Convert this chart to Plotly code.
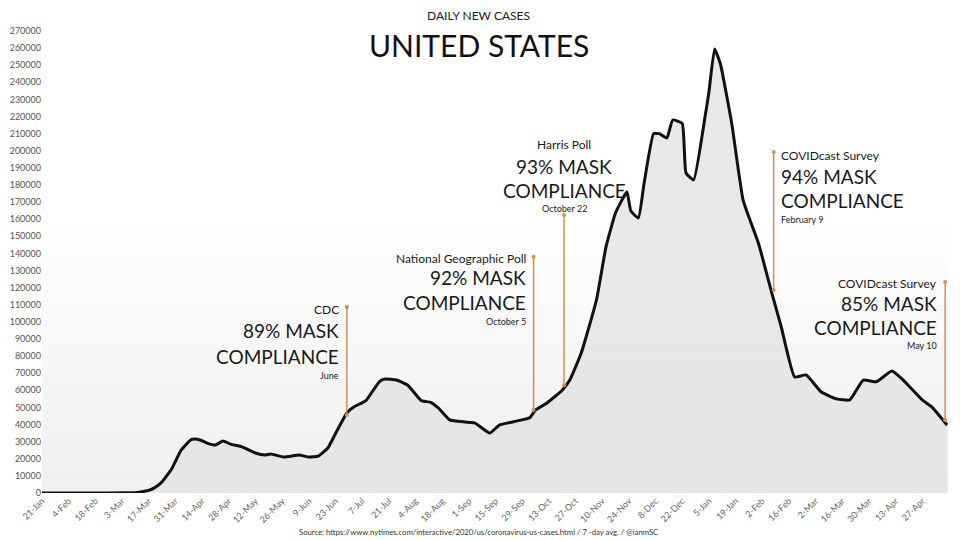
import plotly.graph_objects as go

# ---- data (7-day average daily new cases) ----
dates = [
    "2020-01-21", "2020-02-15", "2020-03-05", "2020-03-12", "2020-03-17", "2020-03-20",
    "2020-03-24", "2020-03-29", "2020-04-03", "2020-04-08", "2020-04-10", "2020-04-13",
    "2020-04-17", "2020-04-21", "2020-04-25", "2020-04-29", "2020-05-05", "2020-05-12",
    "2020-05-17", "2020-05-20", "2020-05-27", "2020-06-04", "2020-06-09", "2020-06-14",
    "2020-06-19", "2020-06-24", "2020-06-29", "2020-07-03", "2020-07-09", "2020-07-16",
    "2020-07-19", "2020-07-25", "2020-07-31", "2020-08-07", "2020-08-12", "2020-08-16",
    "2020-08-22", "2020-08-30", "2020-09-04", "2020-09-12", "2020-09-17", "2020-09-26",
    "2020-10-03", "2020-10-06", "2020-10-12", "2020-10-20", "2020-10-24", "2020-10-30",
    "2020-11-07", "2020-11-12", "2020-11-17", "2020-11-23", "2020-11-25", "2020-11-29",
    "2020-12-02", "2020-12-07", "2020-12-10", "2020-12-14", "2020-12-17", "2020-12-22",
    "2020-12-24", "2020-12-28", "2021-01-03", "2021-01-05", "2021-01-08", "2021-01-11",
    "2021-01-17", "2021-01-23", "2021-01-31", "2021-02-07", "2021-02-12", "2021-02-19",
    "2021-02-25", "2021-03-05", "2021-03-13", "2021-03-20", "2021-03-27", "2021-04-03",
    "2021-04-11", "2021-04-17", "2021-04-27", "2021-05-02", "2021-05-10",
]
cases = [
    0, 0, 100, 500, 1500, 3000,
    6500, 14000, 25000, 31000, 31600, 31000,
    29000, 28000, 30400, 28600, 27000, 23400,
    22200, 22800, 21000, 22200, 21000, 21600,
    26300, 36800, 46800, 50500, 54000, 65000,
    66600, 66000, 63000, 54000, 53000, 49700,
    42700, 41500, 41000, 35000, 39700, 42000,
    44000, 48500, 52600, 60000, 66000, 81800,
    112800, 143800, 163600, 176000, 165000, 160700,
    181000, 210000, 210000, 207500, 218000, 216000,
    187000, 183000, 220000, 234000, 259500, 251000,
    216000, 171000, 146000, 117000, 97000, 67800,
    69000, 59000, 55000, 54400, 66000, 65000,
    71300, 66000, 54400, 50300, 39700,
]

# ---- survey callouts ----
call_dates = ["2020-06-29", "2020-10-05", "2020-10-21", "2021-02-08", "2021-05-09"]
call_top = [108700, 138000, 162500, 199300, 123300]
call_bottom = [45600, 48500, 63000, 118600, 42700]
call_source = ["CDC", "National Geographic Poll", "Harris Poll", "COVIDcast Survey", "COVIDcast Survey"]
call_pct = ["89% MASK", "92% MASK", "93% MASK", "94% MASK", "85% MASK"]
call_when = ["June", "October 5", "October 22", "February 9", "May 10"]
# y positions of the four text lines of each callout (data units)
call_text_y = [
    [107500, 94700, 79500, 68400],
    [137300, 125700, 111600, 100000],
    [203400, 191000, 177000, 166000],
    [197500, 185000, 171000, 160000],
    [122700, 111000, 97000, 86000],
]
call_align = ["right", "right", "center", "left", "right"]

FONT = "Lato, 'Noto Sans', sans-serif"
ORANGE = "#d98c52"

fig = go.Figure()

fig.add_trace(go.Scatter(
    x=dates, y=cases, mode="lines",
    line=dict(color="#111111", width=3, shape="spline", smoothing=0.4),
    fill="tozeroy", fillcolor="rgba(226,226,226,0.75)",
    hoverinfo="x+y", showlegend=False,
))

# callout lines with end dots
for d, t, b in zip(call_dates, call_top, call_bottom):
    fig.add_trace(go.Scatter(
        x=[d, d], y=[t, b], mode="lines+markers",
        line=dict(color=ORANGE, width=1.5),
        marker=dict(color=ORANGE, size=4),
        hoverinfo="skip", showlegend=False,
    ))

annotations = []
for i in range(len(call_dates)):
    al = call_align[i]
    shift = {"right": -6, "left": 5, "center": 0}[al]
    texts = [call_source[i], call_pct[i], "COMPLIANCE", call_when[i]]
    sizes = [12, 19, 19, 9]
    for txt, yy, sz in zip(texts, call_text_y[i], sizes):
        annotations.append(dict(
            x=call_dates[i], y=yy, xref="x", yref="y", text=txt, showarrow=False,
            xanchor=al, yanchor="middle", xshift=shift,
            font=dict(family=FONT, size=sz, color="#1a1a1a"),
        ))

# titles and source
annotations.append(dict(x=0.482, y=1.0346, xref="paper", yref="paper", text="DAILY NEW CASES",
                        showarrow=False, xanchor="center", yanchor="middle",
                        font=dict(family=FONT, size=12, color="#222222")))
annotations.append(dict(x=0.482, y=0.9697, xref="paper", yref="paper", text="UNITED STATES",
                        showarrow=False, xanchor="center", yanchor="middle",
                        font=dict(family=FONT, size=30, color="#111111")))
annotations.append(dict(x=0.482, y=-0.0844, xref="paper", yref="paper",
                        text="Source: https://www.nytimes.com/interactive/2020/us/coronavirus-us-cases.html / 7 -day avg. / @ianmSC",
                        showarrow=False, xanchor="center", yanchor="middle",
                        font=dict(family=FONT, size=7.7, color="#333333")))

# subtle vertical background gradient (white top -> light grey bottom)
shapes = []
n = 24
for k in range(n):
    y0 = k / n * 0.6
    y1 = (k + 1) / n * 0.6
    g = int(240 + (255 - 240) * (k / (n - 1)))
    shapes.append(dict(type="rect", xref="paper", yref="paper", x0=0, x1=1, y0=y0, y1=y1,
                       fillcolor=f"rgb({g},{g},{g})", line=dict(width=0), layer="below"))

fig.update_layout(
    width=960, height=540,
    margin=dict(l=42, r=12, t=31, b=47),
    paper_bgcolor="#ffffff", plot_bgcolor="#ffffff",
    annotations=annotations, shapes=shapes,
    font=dict(family=FONT),
    xaxis=dict(
        type="date", range=["2020-01-21", "2021-05-10 12:00"],
        tick0="2020-01-21", dtick=14 * 86400000, tickformat="%-d-%b",
        tickangle=-45, tickfont=dict(size=9, color="#666666"),
        showgrid=False, zeroline=False, showline=False, ticks="",
        automargin=False,
    ),
    yaxis=dict(
        range=[0, 270000], dtick=10000, tickformat="d",
        tickfont=dict(size=9, color="#555555"),
        showgrid=False, zeroline=False, showline=False, ticks="",
        automargin=False,
    ),
)

fig.write_html("out.html", config={"displayModeBar": False},
               post_script="document.body.style.margin='0';")
